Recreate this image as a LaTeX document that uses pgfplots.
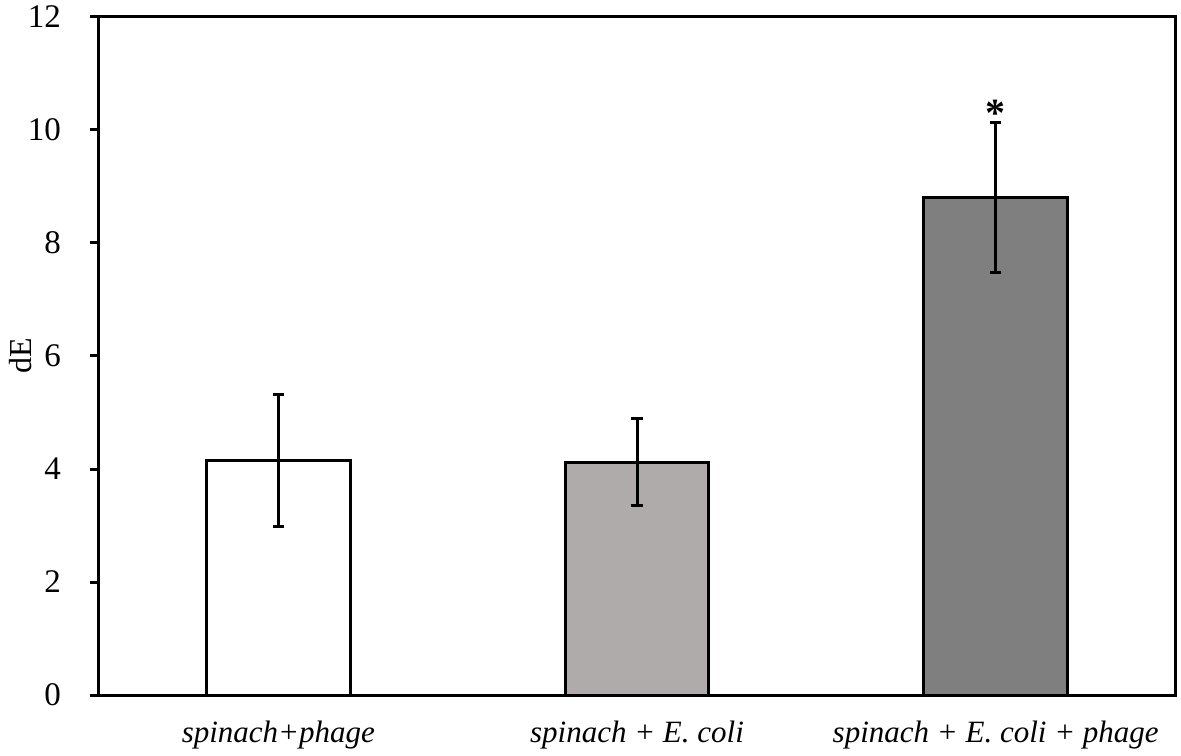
\documentclass[border=0pt]{standalone}
\usepackage{fontspec}
\setmainfont{Liberation Serif}
\usepackage{pgfplots}
\pgfplotsset{compat=1.18}
\definecolor{lightbar}{HTML}{AFABAB}
\definecolor{darkbar}{HTML}{7F7F7F}

\begin{document}
\begin{tikzpicture}
\begin{axis}[
  scale only axis, width=538pt, height=339pt,
  ymin=0, ymax=12, ytick={0,2,...,12},
  xmin=-0.5, xmax=2.5, xtick={0,1,2},
  xticklabels={{spinach+phage},{spinach + E. coli},{spinach + E. coli + phage}},
  ybar, bar width=0.4,
  axis line style={line width=1.5pt},
  /pgf/number format/assume math mode=true,
  yticklabel style={font=\fontsize{16.5}{18}\selectfont, xshift=-11pt},
  xticklabel style={font=\itshape\fontsize{15.5}{18}\selectfont, yshift=-5pt},
  ytick pos=left, tick align=outside, major tick length=4.5pt,
  ytick style={line width=1.5pt, black},
  xtick style={draw=none},
  ylabel={dE}, ylabel style={font=\fontsize{16}{18}\selectfont, yshift=-9pt},
  error bars/error bar style={line width=1.5pt, black},
  error bars/error mark options={rotate=90, mark size=2.9pt, line width=1.5pt, black},
]
  \addplot[bar shift=0pt, fill=white, draw=black, line width=1.5pt,
           error bars/.cd, y dir=both, y explicit]
    coordinates {(0,4.15) +- (0,1.17)};
  \addplot[bar shift=0pt, fill=lightbar, draw=black, line width=1.5pt,
           error bars/.cd, y dir=both, y explicit]
    coordinates {(1,4.12) +- (0,0.77)};
  \addplot[bar shift=0pt, fill=darkbar, draw=black, line width=1.5pt,
           error bars/.cd, y dir=both, y explicit]
    coordinates {(2,8.81) +- (0,1.33)};
  \node[anchor=south, inner sep=0pt, yshift=-2pt, font=\bfseries\fontsize{20}{22}\selectfont] at (axis cs:2,10.13) {*};
\end{axis}
\pgfresetboundingbox
\path (-49.5pt,-30pt) rectangle (541pt,347.5pt);
\end{tikzpicture}
\end{document}
